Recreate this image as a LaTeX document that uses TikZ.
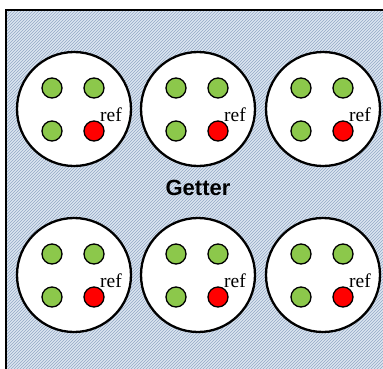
\documentclass[tikz,border=0pt]{standalone}
\usepackage{fontspec}
\setmainfont{Liberation Serif}
\setsansfont{Liberation Sans}
\usetikzlibrary{patterns}
\definecolor{hatchbg}{HTML}{DCE5F0}
\definecolor{hatchln}{HTML}{93A9C6}
\definecolor{dotgreen}{HTML}{8CC84B}
\definecolor{dotred}{HTML}{FF0000}
\tikzset{
  well/.style={circle, draw=black, line width=2.3pt, fill=white, minimum size=114pt, inner sep=0pt},
  gdot/.style={circle, draw=black, line width=1.3pt, fill=dotgreen, minimum size=20pt, inner sep=0pt},
  rdot/.style={circle, draw=black, line width=1.3pt, fill=dotred, minimum size=20pt, inner sep=0pt},
  reflabel/.style={font=\fontsize{19.5}{19.5}\selectfont, inner sep=0pt},
  title/.style={font=\sffamily\bfseries\fontsize{22}{22}\selectfont, inner sep=0pt}
}
\begin{document}
\begin{tikzpicture}[x=1pt,y=-1pt]
\useasboundingbox (0,0) rectangle (383,368);
\begin{scope}
\clip (0,0) rectangle (383,368);
\fill[hatchbg] (6,10) rectangle (400,390);
\fill[pattern=north east lines, pattern color=hatchln] (6,10) rectangle (400,390);
\draw[line width=2.6pt] (6,400) -- (6,10) -- (400,10);
\end{scope}
\foreach \cx/\cy/\nm in {74/109/a, 198/109/b, 323/109/c, 74/275/d, 198/275/e, 323/275/f}{
  \begin{scope}[shift={(\cx,\cy)}]
    \node[well] (w\nm) at (0,0) {};
    \node[gdot] (tl\nm) at (-22,-21) {};
    \node[gdot] (tr\nm) at (20,-21) {};
    \node[gdot] (bl\nm) at (-22,22) {};
    \node[rdot] (br\nm) at (20,22) {};
    \node[reflabel] (r\nm) at (37,6) {ref};
  \end{scope}
}
\node[title] (getter) at (198,188) {Getter};
\end{tikzpicture}
\end{document}
